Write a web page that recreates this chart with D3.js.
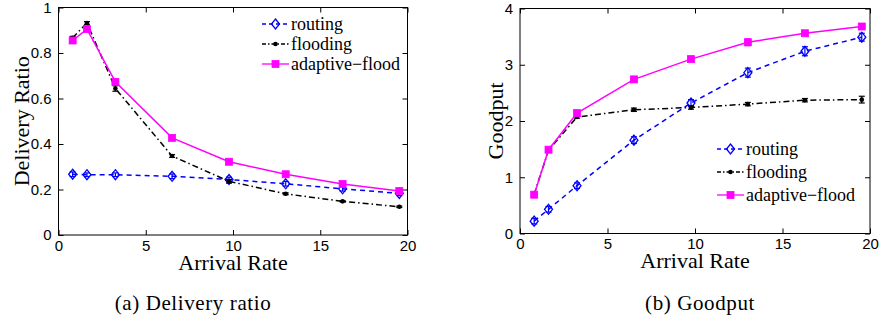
<!DOCTYPE html>
<html><head><meta charset="utf-8">
<script src="https://cdn.jsdelivr.net/npm/d3@7"></script>
<style>body{margin:0;background:#fff}svg{display:block}</style>
</head><body>
<script>
const arrival = [0.81, 1.63, 3.26, 6.51, 9.77, 13.02, 16.28, 19.53];
const xTicks = [0, 5, 10, 15, 20];
const seriesNames = ["routing", "flooding", "adaptive\u2212flood"];

// Delivery ratio
const drRouting  = [0.267, 0.265, 0.265, 0.258, 0.244, 0.225, 0.203, 0.183];
const drFlooding = [0.867, 0.932, 0.644, 0.347, 0.236, 0.181, 0.148, 0.124];
const drAdaptive = [0.855, 0.905, 0.673, 0.427, 0.322, 0.267, 0.224, 0.193];
const drRoutingErr  = [0.010, 0.008, 0.008, 0.010, 0.010, 0.010, 0.010, 0.010];
const drFloodingErr = [0.006, 0.006, 0.012, 0.006, 0.008, 0.004, 0.003, 0.003];
const drAdaptiveErr = [0.008, 0.008, 0.010, 0.005, 0.005, 0.004, 0.004, 0.004];
const drTicks = [0, 0.2, 0.4, 0.6, 0.8, 1];

// Goodput
const gpRouting  = [0.22, 0.43, 0.85, 1.66, 2.32, 2.86, 3.24, 3.49];
const gpFlooding = [0.70, 1.48, 2.07, 2.20, 2.24, 2.30, 2.37, 2.38];
const gpAdaptive = [0.69, 1.49, 2.14, 2.74, 3.10, 3.40, 3.56, 3.68];
const gpRoutingErr  = [0.05, 0.05, 0.05, 0.06, 0.06, 0.08, 0.08, 0.07];
const gpFloodingErr = [0.02, 0.02, 0.02, 0.03, 0.03, 0.03, 0.03, 0.06];
const gpAdaptiveErr = [0.03, 0.03, 0.03, 0.03, 0.04, 0.06, 0.04, 0.03];
const gpTicks = [0, 1, 2, 3, 4];

const W = 880, H = 324;
const svg = d3.select("body").append("svg").attr("width", W).attr("height", H);

const styles = [
  {color: "#0000ff", dash: "5,4", marker: "diamond"},
  {color: "#000000", dash: "6,3,1.5,3", marker: "dot"},
  {color: "#ff00ff", dash: null, marker: "square"}
];

function drawMarker(g, type, x, y, color) {
  if (type === "diamond") {
    g.append("path").attr("d", `M${x},${y-5}L${x+4},${y}L${x},${y+5}L${x-4},${y}Z`)
      .attr("fill", "none").attr("stroke", color).attr("stroke-width", 1.3);
  } else if (type === "dot") {
    g.append("circle").attr("cx", x).attr("cy", y).attr("r", 2.3).attr("fill", color);
  } else {
    g.append("rect").attr("x", x-3.5).attr("y", y-3.5).attr("width", 7).attr("height", 7)
      .attr("fill", color).attr("stroke", color).attr("stroke-width", 0.8);
  }
}

function panel(opt) {
  const g = svg.append("g");
  const x = d3.scaleLinear().domain([0, 20]).range([opt.x0, opt.x1]);
  const y = d3.scaleLinear().domain([0, opt.ymax]).range([opt.y0, opt.y1]);
  g.append("rect").attr("x", opt.x0).attr("y", opt.y1).attr("width", opt.x1-opt.x0).attr("height", opt.y0-opt.y1)
    .attr("fill", "none").attr("stroke", "#000").attr("stroke-width", 1);
  const axB = d3.axisBottom(x).tickValues(xTicks).tickSizeInner(-5).tickSizeOuter(0).tickPadding(5).tickFormat(d3.format("d"));
  const axT = d3.axisTop(x).tickValues(xTicks).tickSizeInner(-5).tickSizeOuter(0).tickFormat("");
  const axL = d3.axisLeft(y).tickValues(opt.ticks).tickSizeInner(-5).tickSizeOuter(0).tickPadding(7).tickFormat(opt.fmt);
  const axR = d3.axisRight(y).tickValues(opt.ticks).tickSizeInner(-5).tickSizeOuter(0).tickFormat("");
  const styleAx = a => { a.select(".domain").remove(); a.selectAll("text").attr("font-family", "Liberation Sans, Arial, sans-serif").attr("font-size", 15).attr("fill", "#000"); a.selectAll("line").attr("stroke", "#000"); };
  g.append("g").attr("transform", `translate(0,${opt.y0})`).call(axB).call(styleAx);
  g.append("g").attr("transform", `translate(0,${opt.y1})`).call(axT).call(styleAx);
  g.append("g").attr("transform", `translate(${opt.x0},0)`).call(axL).call(styleAx);
  g.append("g").attr("transform", `translate(${opt.x1},0)`).call(axR).call(styleAx);

  opt.series.forEach((vals, i) => {
    const st = styles[i];
    const errs = opt.errs[i];
    const line = d3.line().x((d, j) => x(arrival[j])).y(d => y(d));
    g.append("path").datum(vals).attr("d", line).attr("fill", "none")
      .attr("stroke", st.color).attr("stroke-width", 1.5).attr("stroke-dasharray", st.dash);
    vals.forEach((v, j) => {
      const cx = x(arrival[j]);
      const e = errs[j];
      g.append("line").attr("x1", cx).attr("x2", cx).attr("y1", y(v-e)).attr("y2", y(v+e)).attr("stroke", st.color).attr("stroke-width", 1.2);
      [v-e, v+e].forEach(b => g.append("line").attr("x1", cx-3).attr("x2", cx+3).attr("y1", y(b)).attr("y2", y(b)).attr("stroke", st.color).attr("stroke-width", 1.2));
      drawMarker(g, st.marker, cx, y(v), st.color);
    });
  });

  seriesNames.forEach((name, i) => {
    const st = styles[i];
    const ly = opt.legY + i * opt.legDy;
    g.append("line").attr("x1", opt.legX).attr("x2", opt.legX + 27).attr("y1", ly).attr("y2", ly)
      .attr("stroke", st.color).attr("stroke-width", 1.3).attr("stroke-dasharray", i === 0 ? "4,3" : (i === 1 ? "4,2,1.5,2" : null));
    drawMarker(g, st.marker, opt.legX + 13.5, ly, st.color);
    g.append("text").attr("x", opt.legX + 29).attr("y", ly + 6).text(name)
      .attr("font-family", "Liberation Serif, Times New Roman, serif").attr("font-size", 18).attr("fill", "#000");
  });

  g.append("text").attr("x", (opt.x0+opt.x1)/2).attr("y", opt.titleY).attr("text-anchor", "middle")
    .attr("font-family", "Liberation Serif, Times New Roman, serif").attr("font-size", 22).text("Arrival Rate");
  g.append("text").attr("transform", `translate(${opt.ylabX},${(opt.y0+opt.y1)/2}) rotate(-90)`).attr("text-anchor", "middle")
    .attr("font-family", "Liberation Serif, Times New Roman, serif").attr("font-size", 22).text(opt.ylabel);
  g.append("text").attr("x", opt.capX).attr("y", 310).attr("text-anchor", "middle")
    .attr("font-family", "Liberation Serif, Times New Roman, serif").attr("font-size", 21).attr("letter-spacing", 0.6).text(opt.caption);
}

panel({x0: 58.5, x1: 407.5, y0: 235, y1: 7.5, ymax: 1, ticks: drTicks, fmt: d => d === 0 || d === 1 ? d3.format("d")(d) : d3.format(".1f")(d),
  series: [drRouting, drFlooding, drAdaptive], errs: [drRoutingErr, drFloodingErr, drAdaptiveErr],
  legX: 262, legY: 24, legDy: 20, ylabel: "Delivery Ratio", ylabX: 29, caption: "(a)  Delivery ratio", capX: 193, titleY: 269.5});

panel({x0: 520, x1: 870, y0: 233.5, y1: 8.5, ymax: 4, ticks: gpTicks, fmt: d3.format("d"),
  series: [gpRouting, gpFlooding, gpAdaptive], errs: [gpRoutingErr, gpFloodingErr, gpAdaptiveErr],
  legX: 717, legY: 149, legDy: 23, ylabel: "Goodput", ylabX: 503, caption: "(b)  Goodput", capX: 700, titleY: 268});
</script>
</body></html>
